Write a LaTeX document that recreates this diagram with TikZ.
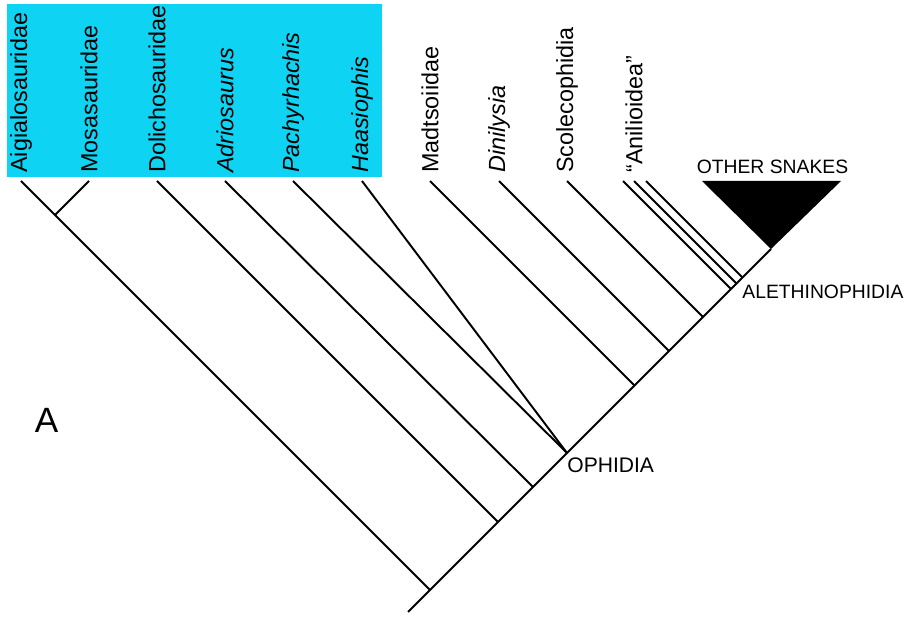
\documentclass[tikz,border=0pt]{standalone}
\usepackage{fontspec}
\setmainfont{Liberation Sans}
\usepackage{xcolor}
\definecolor{cladeblue}{RGB}{14,211,243}

\tikzset{
  taxon/.style={rotate=90, anchor=west, inner sep=0pt, font=\fontsize{13.3}{16}\selectfont},
  grouplabel/.style={inner sep=0pt, font=\fontsize{11}{13}\selectfont},
  branch/.style={line width=1.1pt},
}

\begin{document}
\begin{tikzpicture}[x=0.02cm, y=-0.02cm]
  \useasboundingbox (0,0) rectangle (908,617);
  % Box behind the lizard taxa
  \fill[cladeblue] (7,4) rectangle (382,177);
  % Taxon names
  \node[taxon] (aigL) at (21,173) {Aigialosauridae};
  \node[taxon] (mosaL) at (89,173) {Mosasauridae};
  \node[taxon] (doliL) at (157,173) {Dolichosauridae};
  \node[taxon] (adriL) at (225,173) {\itshape Adriosaurus};
  \node[taxon] (pachL) at (293,173) {\itshape Pachyrhachis};
  \node[taxon] (haasL) at (362,173) {\itshape Haasiophis};
  \node[taxon] (madtL) at (430,173) {Madtsoiidae};
  \node[taxon] (diniL) at (499,173) {\itshape Dinilysia};
  \node[taxon] (scolL) at (567,173) {Scolecophidia};
  \node[taxon] (aniL) at (634,173) {``Anilioidea''};
  % Tips
  \coordinate (aig) at (21,181);
  \coordinate (mosa) at (89,181);
  \coordinate (doli) at (157,181);
  \coordinate (adri) at (225,181);
  \coordinate (pach) at (293,181);
  \coordinate (haas) at (362,181);
  \coordinate (madt) at (430,181);
  \coordinate (dini) at (499,181);
  \coordinate (scol) at (567,181);
  \coordinate (aniA) at (623,181);
  \coordinate (aniB) at (634,181);
  \coordinate (aniC) at (646,181);
  % Nodes on the stem
  \coordinate (root) at (408,612);
  \coordinate (nMosa) at (430,590);
  \coordinate (jMosa) at (55,215);
  \coordinate (nDoli) at (498,522);
  \coordinate (nAdri) at (533,487);
  \coordinate (oph) at (567,453);
  \coordinate (nMadt) at (634.5,385.5);
  \coordinate (nDini) at (669,351);
  \coordinate (nScol) at (703,317);
  \coordinate (nAniA) at (731,289);
  \coordinate (nAniB) at (736.5,283.5);
  \coordinate (nAniC) at (742.5,277.5);
  \coordinate (apex) at (771,249);
  % Branches
  \draw[branch] (root) -- (apex);
  \draw[branch] (nMosa) -- (aig);
  \draw[branch] (jMosa) -- (mosa);
  \draw[branch] (nDoli) -- (doli);
  \draw[branch] (nAdri) -- (adri);
  \draw[branch] (oph) -- (pach);
  \draw[branch] (oph) -- (haas);
  \draw[branch] (nMadt) -- (madt);
  \draw[branch] (nDini) -- (dini);
  \draw[branch] (nScol) -- (scol);
  \draw[branch] (nAniA) -- (aniA);
  \draw[branch] (nAniB) -- (aniB);
  \draw[branch] (nAniC) -- (aniC);
  % Other snakes
  \coordinate (triL) at (702,181);
  \coordinate (triR) at (841,181);
  \fill (triL) -- (triR) -- (apex) -- cycle;
  % Clade names
  \node[grouplabel] (other) at (772.5,166.5) {OTHER SNAKES};
  \node[grouplabel, anchor=west] (aleth) at (742,291.5) {ALETHINOPHIDIA};
  \node[grouplabel, anchor=west, font=\fontsize{12}{14}\selectfont] (ophL) at (567,465) {OPHIDIA};
  \node[font=\fontsize{20}{24}\selectfont] (panel) at (46.5,420.5) {A};
\end{tikzpicture}
\end{document}
